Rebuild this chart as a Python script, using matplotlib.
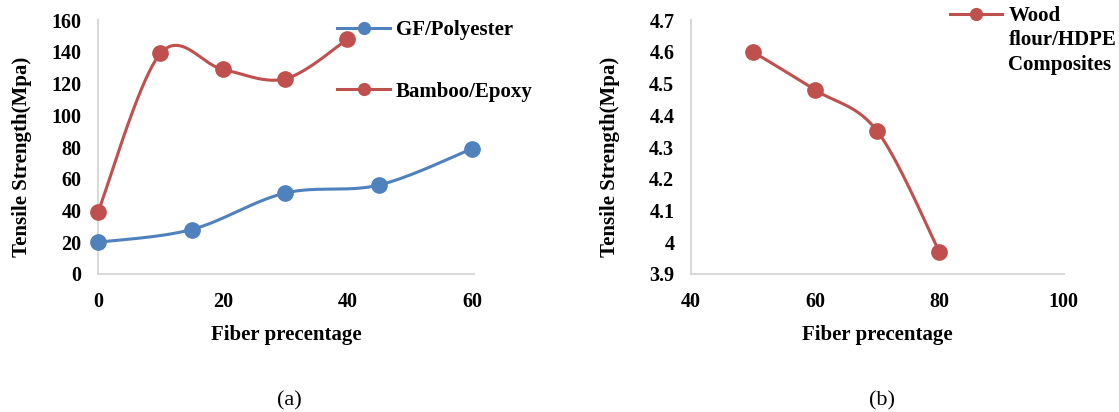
import numpy as np
import matplotlib
matplotlib.use("Agg")
import matplotlib.pyplot as plt
from matplotlib.lines import Line2D
from matplotlib.ticker import FuncFormatter

plt.rcParams['font.family'] = ['Liberation Serif', 'DejaVu Serif']

# Panel (a)
gf_x = [0, 15, 30, 45, 60]
gf_y = [20, 28, 51, 56, 79]
bamboo_x = [0, 10, 20, 30, 40]
bamboo_y = [39, 139, 129, 123, 148]
a_xticks = [0, 20, 40, 60]
a_yticks = [0, 20, 40, 60, 80, 100, 120, 140, 160]

# Panel (b)
wood_x = [50, 60, 70, 80]
wood_y = [4.6, 4.48, 4.35, 3.97]
b_xticks = [40, 60, 80, 100]
b_yticks = [3.9, 4.0, 4.1, 4.2, 4.3, 4.4, 4.5, 4.6, 4.7]

BLUE = '#4f81bd'
RED = '#c0504d'
AXIS = '#d9d9d9'
TICK_FS = 14.5
LAB_FS = 15
LEG_FS = 15


def smooth(x, y, n=40):
    """Excel-style smoothed line (Catmull-Rom Bezier through the points)."""
    x = np.asarray(x, float)
    y = np.asarray(y, float)
    px = np.concatenate([[x[0]], x, [x[-1]]])
    py = np.concatenate([[y[0]], y, [y[-1]]])
    xs, ys = [], []
    t = np.linspace(0, 1, n)
    for i in range(1, len(px) - 2):
        p0 = np.array([px[i], py[i]])
        p3 = np.array([px[i + 1], py[i + 1]])
        c1 = p0 + (np.array([px[i + 1], py[i + 1]]) - np.array([px[i - 1], py[i - 1]])) / 6
        c2 = p3 - (np.array([px[i + 2], py[i + 2]]) - np.array([px[i], py[i]])) / 6
        b = ((1 - t) ** 3)[:, None] * p0 + (3 * (1 - t) ** 2 * t)[:, None] * c1 \
            + (3 * (1 - t) * t ** 2)[:, None] * c2 + (t ** 3)[:, None] * p3
        xs.extend(b[:, 0])
        ys.extend(b[:, 1])
    return xs, ys


fig = plt.figure(figsize=(11.19, 4.12), dpi=100)
ax1 = fig.add_axes([0.0876, 0.335, 0.336, 0.616])
ax2 = fig.add_axes([0.6175, 0.335, 0.333, 0.616])


def style(ax):
    for s in ['top', 'right']:
        ax.spines[s].set_visible(False)
    for s in ['left', 'bottom']:
        ax.spines[s].set_color(AXIS)
        ax.spines[s].set_linewidth(1.5)
    ax.tick_params(length=0)
    ax.tick_params(axis='y', pad=12)
    ax.tick_params(axis='x', pad=13)
    for lab in ax.get_xticklabels() + ax.get_yticklabels():
        lab.set_fontsize(TICK_FS)
        lab.set_fontweight('bold')


def series(ax, x, y, color):
    sx, sy = smooth(x, y)
    ax.plot(sx, sy, color=color, lw=2.2, clip_on=False, zorder=3)
    ax.plot(x, y, 'o', color=color, ms=11, clip_on=False, zorder=4)


leg_prop = dict(family='Liberation Serif', weight='bold', size=LEG_FS)

# Panel (a)
series(ax1, gf_x, gf_y, BLUE)
series(ax1, bamboo_x, bamboo_y, RED)
ax1.set_xlim(0, 60.3)
ax1.set_ylim(0, 160)
ax1.set_xticks(a_xticks)
ax1.set_yticks(a_yticks)
style(ax1)
ax1.set_xlabel('Fiber precentage', labelpad=9, fontsize=LAB_FS, fontweight='bold')
ax1.set_ylabel('Tensile Strength(Mpa)', fontsize=LAB_FS, fontweight='bold')
ax1.yaxis.set_label_coords(-0.176, 0.46)
h1 = Line2D([], [], color=BLUE, lw=2.2, marker='o', ms=8.5)
h2 = Line2D([], [], color=RED, lw=2.2, marker='o', ms=8.5)
ax1.legend([h1, h2], ['GF/Polyester', 'Bamboo/Epoxy'], loc='upper left',
           bbox_to_anchor=(0.587, 1.075), frameon=False, labelspacing=2.0,
           handlelength=2.5, handletextpad=0.3, prop=leg_prop)

# Panel (b)
series(ax2, wood_x, wood_y, RED)
ax2.set_xlim(40, 100)
ax2.set_ylim(3.9, 4.7)
ax2.set_xticks(b_xticks)
ax2.set_yticks(b_yticks)
ax2.yaxis.set_major_formatter(FuncFormatter(lambda v, p: f'{v:g}'))
style(ax2)
ax2.set_xlabel('Fiber precentage', labelpad=9, fontsize=LAB_FS, fontweight='bold')
ax2.set_ylabel('Tensile Strength(Mpa)', fontsize=LAB_FS, fontweight='bold')
ax2.yaxis.set_label_coords(-0.19, 0.46)
h3 = Line2D([], [], color=RED, lw=2.2, marker='o', ms=8.5)
leg = ax2.legend([h3], ['Wood'], loc='upper left',
                 bbox_to_anchor=(0.645, 1.13), frameon=False,
                 handlelength=2.5, handletextpad=0.3, prop=leg_prop)
leg.set_zorder(5)
wood_txt = leg.get_texts()[0]
t2 = ax2.annotate('flour/HDPE', xy=(0, 0), xycoords=wood_txt,
                  xytext=(0, -14), textcoords='offset points',
                  va='baseline', ha='left', fontsize=LEG_FS, fontweight='bold',
                  annotation_clip=False, zorder=6)
t3 = ax2.annotate('Composites', xy=(0, 0), xycoords=t2,
                  xytext=(0, -14), textcoords='offset points',
                  va='baseline', ha='left', fontsize=LEG_FS, fontweight='bold',
                  annotation_clip=False, zorder=7)

fig.text(0.259, 0.015, '(a)', ha='center', fontsize=16)
fig.text(0.788, 0.015, '(b)', ha='center', fontsize=16)

fig.savefig('out.png', dpi=100)
